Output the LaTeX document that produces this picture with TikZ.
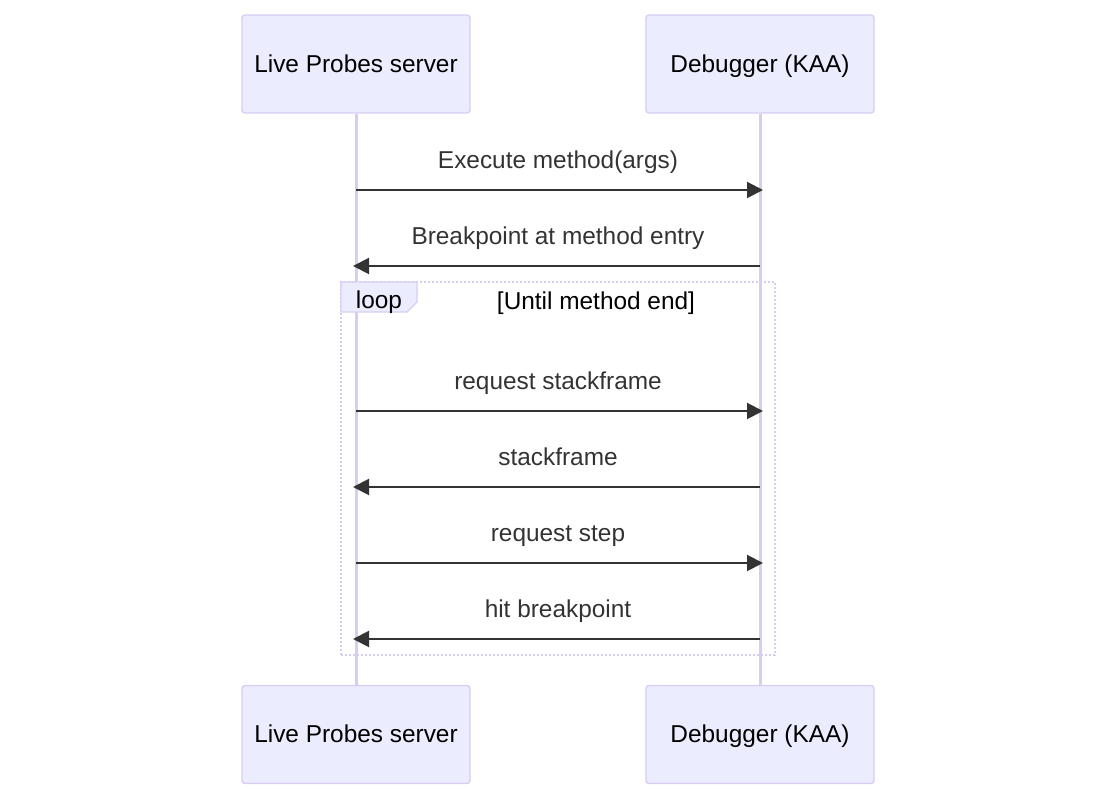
\documentclass[tikz,border=0pt]{standalone}
\usepackage{fontspec}
\setmainfont{Liberation Sans}
\usetikzlibrary{arrows.meta,positioning}
\definecolor{actorfill}{HTML}{ECECFF}
\definecolor{actorline}{HTML}{D8CCF2}
\definecolor{msgcol}{HTML}{333333}

\begin{document}
\begin{tikzpicture}[
  x=0.5pt, y=-0.5pt,
  txt/.style={font=\fontsize{12.2}{14}\selectfont, text height=10.8pt, text depth=2.6pt},
  actor/.style={txt, draw=actorline, fill=actorfill, rounded corners=1.5pt,
                line width=0.7pt, minimum width=114pt, minimum height=49pt},
  life/.style={draw=actorline, line width=1.5pt},
  msg/.style={draw=msgcol, line width=1pt, shorten >=-1.5pt,
              -{Triangle[length=8pt,width=8pt]}},
  msglabel/.style={txt, text=msgcol},
  frame/.style={draw=actorline, line width=1.2pt, dash pattern=on 1pt off 1pt}
]
\useasboundingbox (0,0) rectangle (1116,801);

\node[actor] (lps) at (356,64) {Live Probes server};
\node[actor] (dbg) at (760,64) {Debugger (KAA)};
\node[actor] (lpsb) at (356,734.5) {Live Probes server};
\node[actor] (dbgb) at (760,734.5) {Debugger (KAA)};

\draw[life] (lps.south) -- (lpsb.north);
\draw[life] (dbg.south) -- (dbgb.north);

% loop frame
\node[frame, minimum width=217pt, minimum height=186.5pt, inner sep=0pt]
  (loopbox) at (558,468.5) {};
\filldraw[draw=actorline, fill=actorfill, line width=0.7pt]
  (341,282) -- (417,282) -- (417,302) -- (407,312) -- (341,312) -- cycle;
\node[txt] (looptag) at (379,300) {loop};
\node[txt] (cond) at (596,301) {[Until method end]};

% message rows
\foreach \y [count=\i] in {190,266,411,487,563,639} {
  \coordinate (L\i) at (356,\y);
  \coordinate (R\i) at (760,\y);
}

\node[msglabel] (t1) at (558,160) {Execute method(args)};
\draw[msg] (L1) -- (R1);
\node[msglabel] (t2) at (558,236) {Breakpoint at method entry};
\draw[msg] (R2) -- (L2);
\node[msglabel] (t3) at (558,381) {request stackframe};
\draw[msg] (L3) -- (R3);
\node[msglabel] (t4) at (558,457) {stackframe};
\draw[msg] (R4) -- (L4);
\node[msglabel] (t5) at (558,533) {request step};
\draw[msg] (L5) -- (R5);
\node[msglabel] (t6) at (558,609) {hit breakpoint};
\draw[msg] (R6) -- (L6);
\end{tikzpicture}
\end{document}
